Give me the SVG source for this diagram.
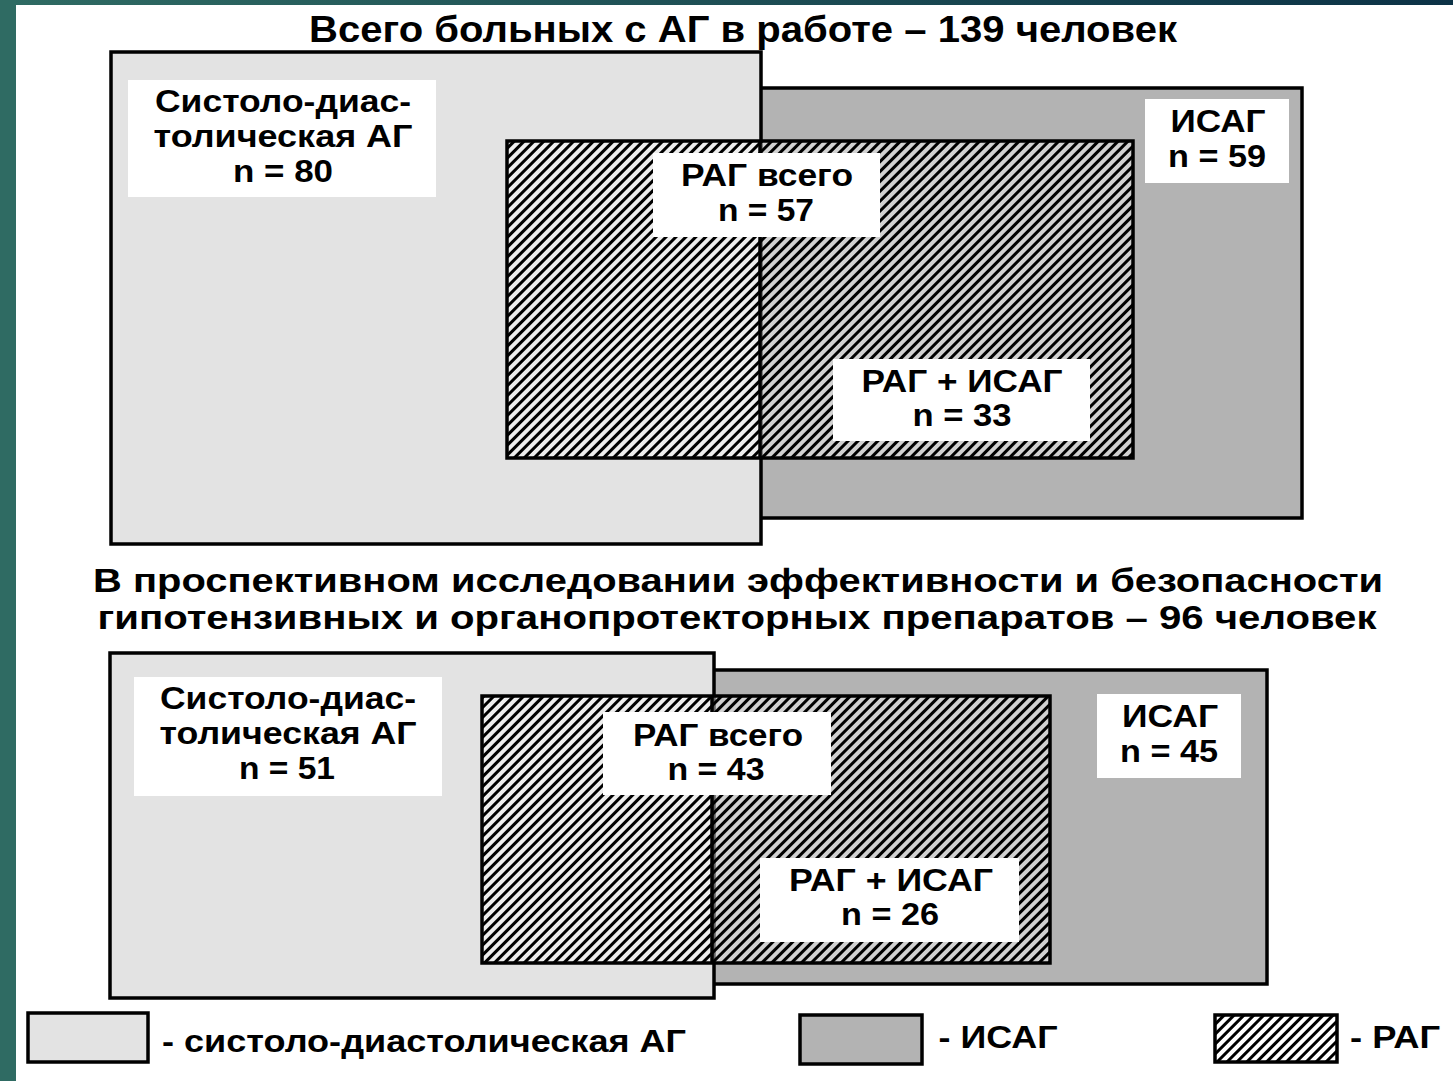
<svg xmlns="http://www.w3.org/2000/svg" width="1453" height="1081" viewBox="0 0 1453 1081">
<style>
.t{font-family:"Liberation Sans",Arial,sans-serif;font-weight:bold;fill:#000;text-anchor:middle}
.lbl{font-size:32px}
.ttl{font-size:36px}
.ttl2{font-size:33px}
.box{stroke:#000;stroke-width:3.5}
.sdag{fill:#e3e3e3}
.isag{fill:#b3b3b3}
.lb{fill:#fff}
.hw{fill:#fff;fill-opacity:0.4;stroke:none}
.hp{fill:url(#hatch);stroke:#000;stroke-width:3.5}
.ln{stroke:#000;stroke-width:3.5}
</style>
<defs>
<pattern id="hatch" width="7" height="7" patternUnits="userSpaceOnUse" patternTransform="rotate(45)">
<rect x="0" y="0" width="3" height="7" fill="#000"/>
</pattern>
<linearGradient id="topbar" x1="0" y1="0" x2="1" y2="0">
<stop offset="0" stop-color="#2f6b63"/>
<stop offset="1" stop-color="#0c3246"/>
</linearGradient>
</defs>
<rect x="0" y="0" width="1453" height="1081" fill="#fff"/>
<rect x="0" y="0" width="1453" height="5" fill="url(#topbar)"/>
<rect x="0" y="0" width="16" height="1081" fill="#2f6b63"/>

<text class="t ttl" x="743" y="42" textLength="868" lengthAdjust="spacingAndGlyphs">Всего больных с АГ в работе – 139 человек</text>

<g id="top-isag"><rect class="box isag" x="760" y="88" width="542" height="430"/></g>
<g id="top-sdag"><rect class="box sdag" x="111" y="52" width="650" height="492"/></g>
<g id="top-rag">
<rect class="hw" x="507" y="141" width="626" height="317"/>
<rect class="hp" x="507" y="141" width="626" height="317"/>
</g>

<g id="top-sdag-label">
<rect class="lb" x="128" y="80" width="308" height="117"/>
<text class="t lbl" x="283" y="112" textLength="256" lengthAdjust="spacingAndGlyphs">Систоло-диас-</text>
<text class="t lbl" x="283" y="147" textLength="259" lengthAdjust="spacingAndGlyphs">толическая АГ</text>
<text class="t lbl" x="283" y="182" textLength="100" lengthAdjust="spacingAndGlyphs">n = 80</text>
</g>

<text class="t ttl2" x="738" y="592" textLength="1290" lengthAdjust="spacingAndGlyphs">В проспективном исследовании эффективности и безопасности</text>
<text class="t ttl2" x="737" y="629" textLength="1279" lengthAdjust="spacingAndGlyphs">гипотензивных и органопротекторных препаратов – 96 человек</text>

<g id="bottom-isag"><rect class="box isag" x="711" y="670" width="556" height="314"/></g>
<g id="bottom-sdag"><rect class="box sdag" x="110" y="653" width="604" height="345"/></g>
<g id="bottom-rag">
<rect class="hw" x="482" y="696" width="568" height="267"/>
<rect class="hp" x="482" y="696" width="568" height="267"/>
</g>

<g id="connectors">
<line class="ln" x1="760" y1="141" x2="760" y2="458"/>
<line class="ln" x1="712" y1="696" x2="712" y2="963"/>
</g>

<g id="top-rag-label">
<rect class="lb" x="653" y="153" width="227" height="84"/>
<text class="t lbl" x="767" y="186" textLength="172" lengthAdjust="spacingAndGlyphs">РАГ всего</text>
<text class="t lbl" x="766" y="221" textLength="96" lengthAdjust="spacingAndGlyphs">n = 57</text>
</g>
<g id="top-isag-label">
<rect class="lb" x="1145" y="99" width="144" height="84"/>
<text class="t lbl" x="1218" y="132" textLength="95" lengthAdjust="spacingAndGlyphs">ИСАГ</text>
<text class="t lbl" x="1217" y="167" textLength="98" lengthAdjust="spacingAndGlyphs">n = 59</text>
</g>
<g id="top-rag-isag-label">
<rect class="lb" x="833" y="359" width="257" height="82"/>
<text class="t lbl" x="962" y="392" textLength="201" lengthAdjust="spacingAndGlyphs">РАГ + ИСАГ</text>
<text class="t lbl" x="962" y="426" textLength="99" lengthAdjust="spacingAndGlyphs">n = 33</text>
</g>

<g id="bottom-sdag-label">
<rect class="lb" x="134" y="677" width="308" height="119"/>
<text class="t lbl" x="288" y="709" textLength="256" lengthAdjust="spacingAndGlyphs">Систоло-диас-</text>
<text class="t lbl" x="288" y="744" textLength="257" lengthAdjust="spacingAndGlyphs">толическая АГ</text>
<text class="t lbl" x="287" y="779" textLength="96" lengthAdjust="spacingAndGlyphs">n = 51</text>
</g>
<g id="bottom-rag-label">
<rect class="lb" x="603" y="712" width="228" height="83"/>
<text class="t lbl" x="718" y="746" textLength="170" lengthAdjust="spacingAndGlyphs">РАГ всего</text>
<text class="t lbl" x="716" y="780" textLength="97" lengthAdjust="spacingAndGlyphs">n = 43</text>
</g>
<g id="bottom-isag-label">
<rect class="lb" x="1097" y="694" width="144" height="84"/>
<text class="t lbl" x="1170" y="727" textLength="96" lengthAdjust="spacingAndGlyphs">ИСАГ</text>
<text class="t lbl" x="1169" y="762" textLength="98" lengthAdjust="spacingAndGlyphs">n = 45</text>
</g>
<g id="bottom-rag-isag-label">
<rect class="lb" x="760" y="858" width="259" height="84"/>
<text class="t lbl" x="891" y="891" textLength="204" lengthAdjust="spacingAndGlyphs">РАГ + ИСАГ</text>
<text class="t lbl" x="890" y="925" textLength="98" lengthAdjust="spacingAndGlyphs">n = 26</text>
</g>

<g id="legend-sdag">
<rect class="box sdag" x="28" y="1013" width="120" height="49"/>
<text class="t lbl" x="424" y="1052" textLength="524" lengthAdjust="spacingAndGlyphs">- систоло-диастолическая АГ</text>
</g>
<g id="legend-isag">
<rect class="box isag" x="800" y="1015" width="122" height="49"/>
<text class="t lbl" x="998" y="1048" textLength="119" lengthAdjust="spacingAndGlyphs">- ИСАГ</text>
</g>
<g id="legend-rag">
<rect class="hw" x="1215" y="1015" width="122" height="47"/>
<rect class="hp" x="1215" y="1015" width="122" height="47"/>
<text class="t lbl" x="1395" y="1048" textLength="90" lengthAdjust="spacingAndGlyphs">- РАГ</text>
</g>
</svg>
